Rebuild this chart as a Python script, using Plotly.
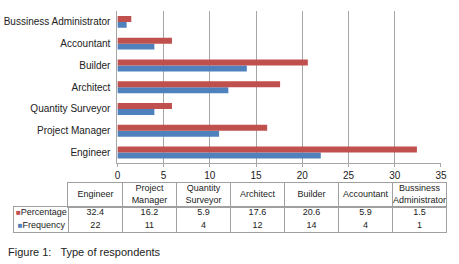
import plotly.graph_objects as go

categories = ["Engineer", "Project Manager", "Quantity Surveyor", "Architect",
              "Builder", "Accountant", "Bussiness Administrator"]
header_labels = ["Engineer", "Project<br>Manager", "Quantity<br>Surveyor", "Architect",
                 "Builder", "Accountant", "Bussiness<br>Administrator"]
series_names = ["Percentage", "Frequency"]
percentage = [32.4, 16.2, 5.9, 17.6, 20.6, 5.9, 1.5]
frequency = [22, 11, 4, 12, 14, 4, 1]
x_ticks = [0, 5, 10, 15, 20, 25, 30, 35]

RED = "#C0504D"
BLUE = "#4F81BD"
GRID = "#A6A6A6"
TBL = "#A0A0A0"
FONT = "Liberation Sans"
TXT = "#222222"
W, H = 459, 264

fig = go.Figure()
# bar chart (Frequency first so that Percentage sits above it in each group)
fig.add_trace(go.Bar(y=categories, x=frequency, orientation="h", name="Frequency",
                     marker=dict(color=BLUE, line=dict(width=0)), hoverinfo="skip"))
fig.add_trace(go.Bar(y=categories, x=percentage, orientation="h", name="Percentage",
                     marker=dict(color=RED, line=dict(width=0)), hoverinfo="skip"))

# data table: header row
fig.add_trace(go.Scatter(x=categories, y=[0] * len(categories), text=header_labels,
                         mode="text", xaxis="x2", yaxis="y2", hoverinfo="skip",
                         textfont=dict(family=FONT, size=9, color=TXT)))

# data table: body rows
row_colors = {"Percentage": RED, "Frequency": BLUE}
for name, vals in zip(series_names, [percentage, frequency]):
    label = "<span style='color:%s;font-size:8px'>■</span>%s" % (row_colors[name], name)
    fig.add_trace(go.Scatter(x=["Series"] + categories, y=[name] * (len(categories) + 1),
                             text=[label] + [str(v) for v in vals],
                             mode="text", xaxis="x3", yaxis="y3", hoverinfo="skip",
                             textfont=dict(family=FONT, size=9, color=TXT)))

tbl_axis = dict(type="category", tickson="boundaries", showgrid=True, gridcolor=TBL,
                gridwidth=1, showline=True, mirror=True, linecolor=TBL, linewidth=1,
                showticklabels=False, ticks="", fixedrange=True)

fig.update_layout(
    width=W, height=H,
    margin=dict(l=0, r=0, t=0, b=0),
    paper_bgcolor="white", plot_bgcolor="white",
    barmode="group", bargap=0.45, bargroupgap=0,
    showlegend=False,
    font=dict(family=FONT, size=10, color=TXT),
    xaxis=dict(domain=[116.7 / W, 446.7 / W], range=[0, 35], tickvals=x_ticks,
               showgrid=True, gridcolor=GRID, gridwidth=1,
               showline=True, linecolor=GRID, linewidth=1,
               ticks="outside", ticklen=3, tickcolor=GRID,
               zeroline=False, tickfont=dict(size=10, color=TXT)),
    yaxis=dict(domain=[(H - 163.3) / H, (H - 11) / H],
               showline=True, linecolor=GRID, linewidth=1,
               showgrid=False, ticks="", ticklabelstandoff=4,
               tickfont=dict(size=10, color=TXT)),
    xaxis2=dict(tbl_axis, domain=[66.7 / W, 452.3 / W], anchor="y2",
                categoryorder="array", categoryarray=categories,
                range=[-0.5, len(categories) - 0.5]),
    yaxis2=dict(domain=[(H - 207) / H, (H - 183) / H], anchor="x2", range=[-1, 1],
                showgrid=False, zeroline=False, showline=True, mirror=True,
                linecolor=TBL, linewidth=1, showticklabels=False, ticks="",
                fixedrange=True),
    xaxis3=dict(tbl_axis, domain=[11.6 / W, 452.3 / W], anchor="y3",
                categoryorder="array", categoryarray=["Series"] + categories,
                range=[-0.5, len(categories) + 0.5]),
    yaxis3=dict(tbl_axis, domain=[(H - 231.5) / H, (H - 207) / H], anchor="x3",
                categoryorder="array", categoryarray=series_names[::-1],
                range=[-0.5, len(series_names) - 0.5]),
    annotations=[dict(text="Figure 1:\u00a0\u00a0 Type of respondents",
                      xref="paper", yref="paper",
                      x=3 / W, y=(H - 252) / H, xanchor="left", yanchor="middle",
                      showarrow=False, font=dict(family=FONT, size=11, color=TXT))],
)

fig.write_html("out.html", config={"displayModeBar": False},
               post_script="document.body.style.margin='0px';document.body.style.overflow='hidden';")
